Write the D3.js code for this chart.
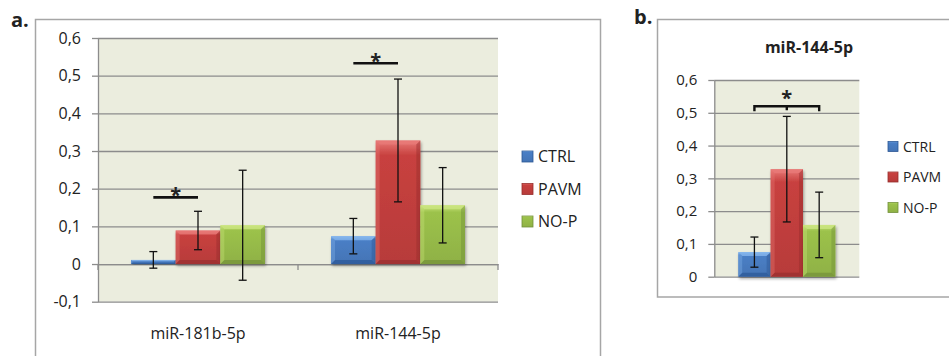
<!DOCTYPE html>
<html lang="en">
<head>
<meta charset="utf-8">
<title>miR expression</title>
<script src="https://d3js.org/d3.v7.min.js"></script>
<style>
  body { margin: 0; background: #fff; }
  text { font-family: "Open Sans", sans-serif; fill: #222; }
</style>
</head>
<body>
<script>
// data
var categories = ["miR-181b-5p", "miR-144-5p"];
var groups = ["CTRL", "PAVM", "NO-P"];
var ctrlMean = [0.011, 0.074], ctrlErr = [0.022, 0.047];
var pavmMean = [0.089, 0.328], pavmErr = [0.051, 0.163];
var nopMean  = [0.103, 0.156], nopErr  = [0.146, 0.100];
var yTicksA = [-0.1, 0, 0.1, 0.2, 0.3, 0.4, 0.5, 0.6];

var bCategory = "miR-144-5p";
var bMean = [0.075, 0.328, 0.158];
var bErr  = [0.046, 0.161, 0.100];
var yTicksB = [0, 0.1, 0.2, 0.3, 0.4, 0.5, 0.6];

// significance bars: category index, from group, to group, height
var sigA = [[0, "CTRL", "PAVM", 0.177], [1, "CTRL", "PAVM", 0.533]];
var sigB = ["CTRL", "NO-P", 0.52];

var colors = {
  "CTRL": { base: "#4a7fc6", light: "#86b6ee", dark: "#2c5795" },
  "PAVM": { base: "#c8413f", light: "#e87a78", dark: "#972d2c" },
  "NO-P": { base: "#9cc24b", light: "#cbe57f", dark: "#72903a" }
};

var W = 949, H = 356;
var svg = d3.select("body").append("svg").attr("width", W).attr("height", H);
var defs = svg.append("defs");

groups.forEach(function(g) {
  var grad = defs.append("linearGradient").attr("id", "g" + groups.indexOf(g))
    .attr("x1", 0).attr("y1", 0).attr("x2", 0).attr("y2", 1);
  grad.append("stop").attr("offset", 0).attr("stop-color", colors[g].light);
  grad.append("stop").attr("offset", 0.12).attr("stop-color", colors[g].base);
  grad.append("stop").attr("offset", 1).attr("stop-color", d3.color(colors[g].base).darker(0.25));
});
var shadow = defs.append("filter").attr("id", "sh").attr("x", -0.2).attr("y", -0.2).attr("width", 1.4).attr("height", 1.4);
shadow.append("feGaussianBlur").attr("in", "SourceAlpha").attr("stdDeviation", 1.5);
shadow.append("feOffset").attr("dx", 1).attr("dy", 2).attr("result", "b");
shadow.append("feComponentTransfer").append("feFuncA").attr("type", "linear").attr("slope", 0.35);
var m = shadow.append("feMerge");
m.append("feMergeNode");
m.append("feMergeNode").attr("in", "SourceGraphic");

function fmt(v) { return d3.format(".1f")(v).replace(".", ",").replace("−", "-").replace("0,0", "0"); }

// bar with a small bevel, x/y/w/h come from the scales
function bar(sel, x, y, w, h, g) {
  var c = colors[g], b = Math.min(4, h / 3, w / 4);
  var gg = sel.append("g").attr("filter", "url(#sh)");
  gg.append("rect").attr("x", x).attr("y", y).attr("width", w).attr("height", h)
    .attr("fill", "url(#g" + groups.indexOf(g) + ")");
  if (h < 2) return;
  gg.append("polygon").attr("fill", c.light).attr("opacity", 0.8)
    .attr("points", [[x, y], [x + w, y], [x + w - b, y + b], [x + b, y + b]].join(" "));
  gg.append("polygon").attr("fill", c.dark).attr("opacity", 0.7)
    .attr("points", [[x, y + h], [x + w, y + h], [x + w - b, y + h - b], [x + b, y + h - b]].join(" "));
  gg.append("polygon").attr("fill", c.dark).attr("opacity", 0.45)
    .attr("points", [[x + w, y], [x + w, y + h], [x + w - b, y + h - b], [x + w - b, y + b]].join(" "));
  gg.append("polygon").attr("fill", c.light).attr("opacity", 0.35)
    .attr("points", [[x, y], [x, y + h], [x + b, y + h - b], [x + b, y + b]].join(" "));
}

function errBar(sel, cx, y, mean, err, cap) {
  var e = sel.append("g").attr("stroke", "#111").attr("stroke-width", 1.3);
  e.append("line").attr("x1", cx).attr("x2", cx).attr("y1", y(mean + err)).attr("y2", y(mean - err));
  [mean + err, mean - err].forEach(function(v) {
    e.append("line").attr("x1", cx - cap).attr("x2", cx + cap).attr("y1", y(v)).attr("y2", y(v));
  });
}

function legend(sel, x, y0, dy, size, fs) {
  groups.forEach(function(g, i) {
    var yy = y0 + i * dy;
    var c = colors[g];
    sel.append("rect").attr("x", x).attr("y", yy - size / 2).attr("width", size).attr("height", size)
      .attr("fill", "url(#g" + i + ")").attr("stroke", c.dark).attr("stroke-width", 0.8);
    sel.append("text").attr("x", x + size + 5).attr("y", yy).attr("dy", "0.36em")
      .style("font-size", fs + "px").text(g);
  });
}

function plotFrame(sel, x0, x1, y, ticks, fs) {
  sel.append("rect").attr("x", x0).attr("y", y.range()[1]).attr("width", x1 - x0)
    .attr("height", y.range()[0] - y.range()[1]).attr("fill", "#ebedde");
  var grid = sel.append("g").attr("transform", "translate(" + x0 + ",0)")
    .call(d3.axisLeft(y).tickValues(ticks).tickSize(-(x1 - x0)).tickFormat(""));
  grid.select(".domain").remove();
  grid.selectAll("line").attr("stroke", "#8c8c8c").attr("stroke-width", 1.3);
  var ax = sel.append("g").attr("transform", "translate(" + x0 + ",0)")
    .call(d3.axisLeft(y).tickValues(ticks).tickSize(6).tickSizeOuter(0).tickPadding(11).tickFormat(fmt));
  ax.select(".domain").attr("stroke", "#8c8c8c").attr("stroke-width", 1.3);
  ax.selectAll("line").attr("stroke", "#8c8c8c").attr("stroke-width", 1.3);
  ax.selectAll("text").style("font-size", fs + "px").style("font-family", "Open Sans").attr("fill", "#222");
}

// ---------- panel a ----------
var a = svg.append("g");
a.append("rect").attr("x", 35.5).attr("y", 19.5).attr("width", 565).attr("height", 400)
  .attr("fill", "none").attr("stroke", "#a6a6a6").attr("stroke-width", 1.5);
a.append("text").attr("x", 11).attr("y", 27).style("font-size", "20px").style("font-weight", "bold")
  .attr("fill", "#111").text("a.");

var xA = d3.scaleBand().domain(categories).range([98, 498]).paddingInner(0.33).paddingOuter(0.165);
var xiA = d3.scaleBand().domain(groups).range([0, xA.bandwidth()]);
var yA = d3.scaleLinear().domain([-0.1, 0.6]).range([301.7, 38]);

plotFrame(a, 98, 498, yA, yTicksA, 16);

// zero axis with category dividers
var xAx = a.append("g").attr("transform", "translate(0," + yA(0) + ")")
  .call(d3.axisBottom(xA).tickSize(0).tickFormat(""));
xAx.select(".domain").attr("stroke", "#8c8c8c").attr("stroke-width", 1.3);
d3.range(categories.length + 1).forEach(function(i) {
  var xx = xA.range()[0] + i * xA.step();
  a.append("line").attr("x1", xx).attr("x2", xx).attr("y1", yA(0)).attr("y2", yA(0) + 6)
    .attr("stroke", "#8c8c8c").attr("stroke-width", 1.3);
});

var meansA = [ctrlMean, pavmMean, nopMean], errsA = [ctrlErr, pavmErr, nopErr];
categories.forEach(function(cat, ci) {
  groups.forEach(function(g, gi) {
    var v = meansA[gi][ci];
    bar(a, xA(cat) + xiA(g), yA(v), xiA.bandwidth(), yA(0) - yA(v), g);
  });
});
categories.forEach(function(cat, ci) {
  groups.forEach(function(g, gi) {
    errBar(a, xA(cat) + xiA(g) + xiA.bandwidth() / 2, yA, meansA[gi][ci], errsA[gi][ci], 4);
  });
});
a.append("g").selectAll("text").data(categories).join("text")
  .attr("x", function(d) { return xA(d) + xA.bandwidth() / 2; })
  .attr("y", 333).attr("dy", "0.36em").attr("text-anchor", "middle")
  .style("font-size", "16px").text(function(d) { return d; });

sigA.forEach(function(s) {
  var cat = categories[s[0]];
  var x1 = xA(cat) + xiA(s[1]) + xiA.bandwidth() / 2;
  var x2 = xA(cat) + xiA(s[2]) + xiA.bandwidth() / 2;
  var yy = yA(s[3]);
  a.append("line").attr("x1", x1).attr("x2", x2).attr("y1", yy).attr("y2", yy)
    .attr("stroke", "#111").attr("stroke-width", 2.6);
  a.append("text").attr("x", (x1 + x2) / 2).attr("y", yy + 5).attr("text-anchor", "middle")
    .style("font-size", "20px").style("font-weight", "bold").attr("fill", "#111").text("*");
});

legend(a, 522, 156.5, 32.5, 11, 16);

// ---------- panel b ----------
var b = svg.append("g");
b.append("rect").attr("x", 657.5).attr("y", 19.5).attr("width", 320).attr("height", 277.5)
  .attr("fill", "none").attr("stroke", "#a6a6a6").attr("stroke-width", 1.5);
b.append("text").attr("x", 634).attr("y", 24).style("font-size", "20px").style("font-weight", "bold")
  .attr("fill", "#111").text("b.");
b.append("text").attr("x", 809).attr("y", 47.5).attr("dy", "0.36em").attr("text-anchor", "middle")
  .style("font-size", "16px").style("font-weight", "bold").attr("fill", "#111").text(bCategory);

var xB = d3.scaleBand().domain([bCategory]).range([714.3, 859.3]).paddingInner(0.33).paddingOuter(0.165);
var xiB = d3.scaleBand().domain(groups).range([0, xB.bandwidth()]);
var yB = d3.scaleLinear().domain([0, 0.6]).range([276.7, 80]);

plotFrame(b, 714.3, 859.3, yB, yTicksB, 15);

groups.forEach(function(g, gi) {
  var v = bMean[gi];
  bar(b, xB(bCategory) + xiB(g), yB(v), xiB.bandwidth(), yB(0) - yB(v), g);
});
groups.forEach(function(g, gi) {
  errBar(b, xB(bCategory) + xiB(g) + xiB.bandwidth() / 2, yB, bMean[gi], bErr[gi], 4);
});

(function() {
  var x1 = xB(bCategory) + xiB(sigB[0]) + xiB.bandwidth() / 2;
  var x2 = xB(bCategory) + xiB(sigB[1]) + xiB.bandwidth() / 2;
  var xm = (x1 + x2) / 2, yy = yB(sigB[2]);
  b.append("path").attr("fill", "none").attr("stroke", "#111").attr("stroke-width", 2.4)
    .attr("d", "M" + x1 + "," + (yy + 5) + "V" + yy + "H" + x2 + "V" + (yy + 5) + "M" + xm + "," + yy + "V" + (yy + 4));
  b.append("text").attr("x", xm).attr("y", yy - 1).attr("text-anchor", "middle")
    .style("font-size", "20px").style("font-weight", "bold").attr("fill", "#111").text("*");
})();

legend(b, 888, 146.5, 30.5, 10, 14);
</script>
</body>
</html>
